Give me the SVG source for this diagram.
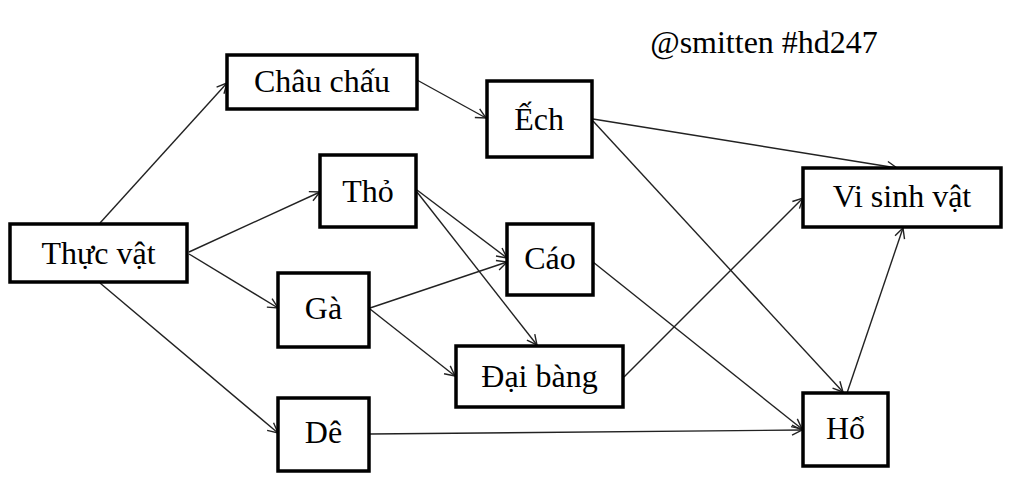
<svg xmlns="http://www.w3.org/2000/svg" width="1024" height="492" viewBox="0 0 1024 492">
<style>
.box{fill:#fff;stroke:#000;stroke-width:3.5}
.lbl{font-family:"Liberation Serif","Times New Roman",serif;font-size:32px;fill:#000;text-anchor:middle}
.edge{stroke:#222;stroke-width:1.4;fill:none;marker-end:url(#arr)}
</style>
<defs>
<marker id="arr" markerUnits="userSpaceOnUse" markerWidth="14" markerHeight="14" refX="11" refY="6" orient="auto" viewBox="0 0 14 12">
<path d="M1,1 L11,6 L1,11" fill="none" stroke="#222" stroke-width="1.4"/>
</marker>
</defs>
<rect width="1024" height="492" fill="#fff"/>
<text class="lbl" x="764" y="53">@smitten #hd247</text>
<g id="connectors">
<line class="edge" x1="100" y1="223" x2="227" y2="83"/>
<line class="edge" x1="189" y1="252" x2="320" y2="192"/>
<line class="edge" x1="189" y1="254" x2="278" y2="308"/>
<line class="edge" x1="100" y1="283" x2="278" y2="433"/>
<line class="edge" x1="417" y1="80" x2="486" y2="118"/>
<line class="edge" x1="417" y1="190" x2="507" y2="258"/>
<line class="edge" x1="417" y1="192" x2="537" y2="345"/>
<line class="edge" x1="370" y1="308" x2="507" y2="262"/>
<line class="edge" x1="370" y1="309" x2="455" y2="376"/>
<line class="edge" x1="370" y1="434" x2="802" y2="430"/>
<line class="edge" x1="593" y1="119" x2="897" y2="168"/>
<line class="edge" x1="593" y1="121" x2="843" y2="392"/>
<line class="edge" x1="593" y1="262" x2="802" y2="429"/>
<line class="edge" x1="624" y1="377" x2="803" y2="198"/>
<line class="edge" x1="847" y1="393" x2="903" y2="228"/>
</g>
<g id="thuc-vat"><rect class="box" x="10" y="224" width="177" height="58"/><text class="lbl" x="98.5" y="264">Thực vật</text></g>
<g id="chau-chau"><rect class="box" x="227" y="55" width="190" height="54"/><text class="lbl" x="322" y="92">Châu chấu</text></g>
<g id="ech"><rect class="box" x="487" y="81" width="105" height="76"/><text class="lbl" x="539" y="130">Ếch</text></g>
<g id="tho"><rect class="box" x="320" y="155" width="96" height="72"/><text class="lbl" x="368" y="202">Thỏ</text></g>
<g id="cao"><rect class="box" x="507" y="224" width="86" height="71"/><text class="lbl" x="550" y="269">Cáo</text></g>
<g id="ga"><rect class="box" x="278" y="273" width="91" height="74"/><text class="lbl" x="323.5" y="319">Gà</text></g>
<g id="dai-bang"><rect class="box" x="456" y="346" width="167" height="61"/><text class="lbl" x="539.5" y="387">Đại bàng</text></g>
<g id="de"><rect class="box" x="278" y="398" width="91" height="73"/><text class="lbl" x="323.5" y="443">Dê</text></g>
<g id="vi-sinh-vat"><rect class="box" x="803" y="168" width="198" height="59"/><text class="lbl" x="902" y="207">Vi sinh vật</text></g>
<g id="ho"><rect class="box" x="803" y="393" width="85" height="73"/><text class="lbl" x="845.5" y="439">Hổ</text></g>
</svg>
